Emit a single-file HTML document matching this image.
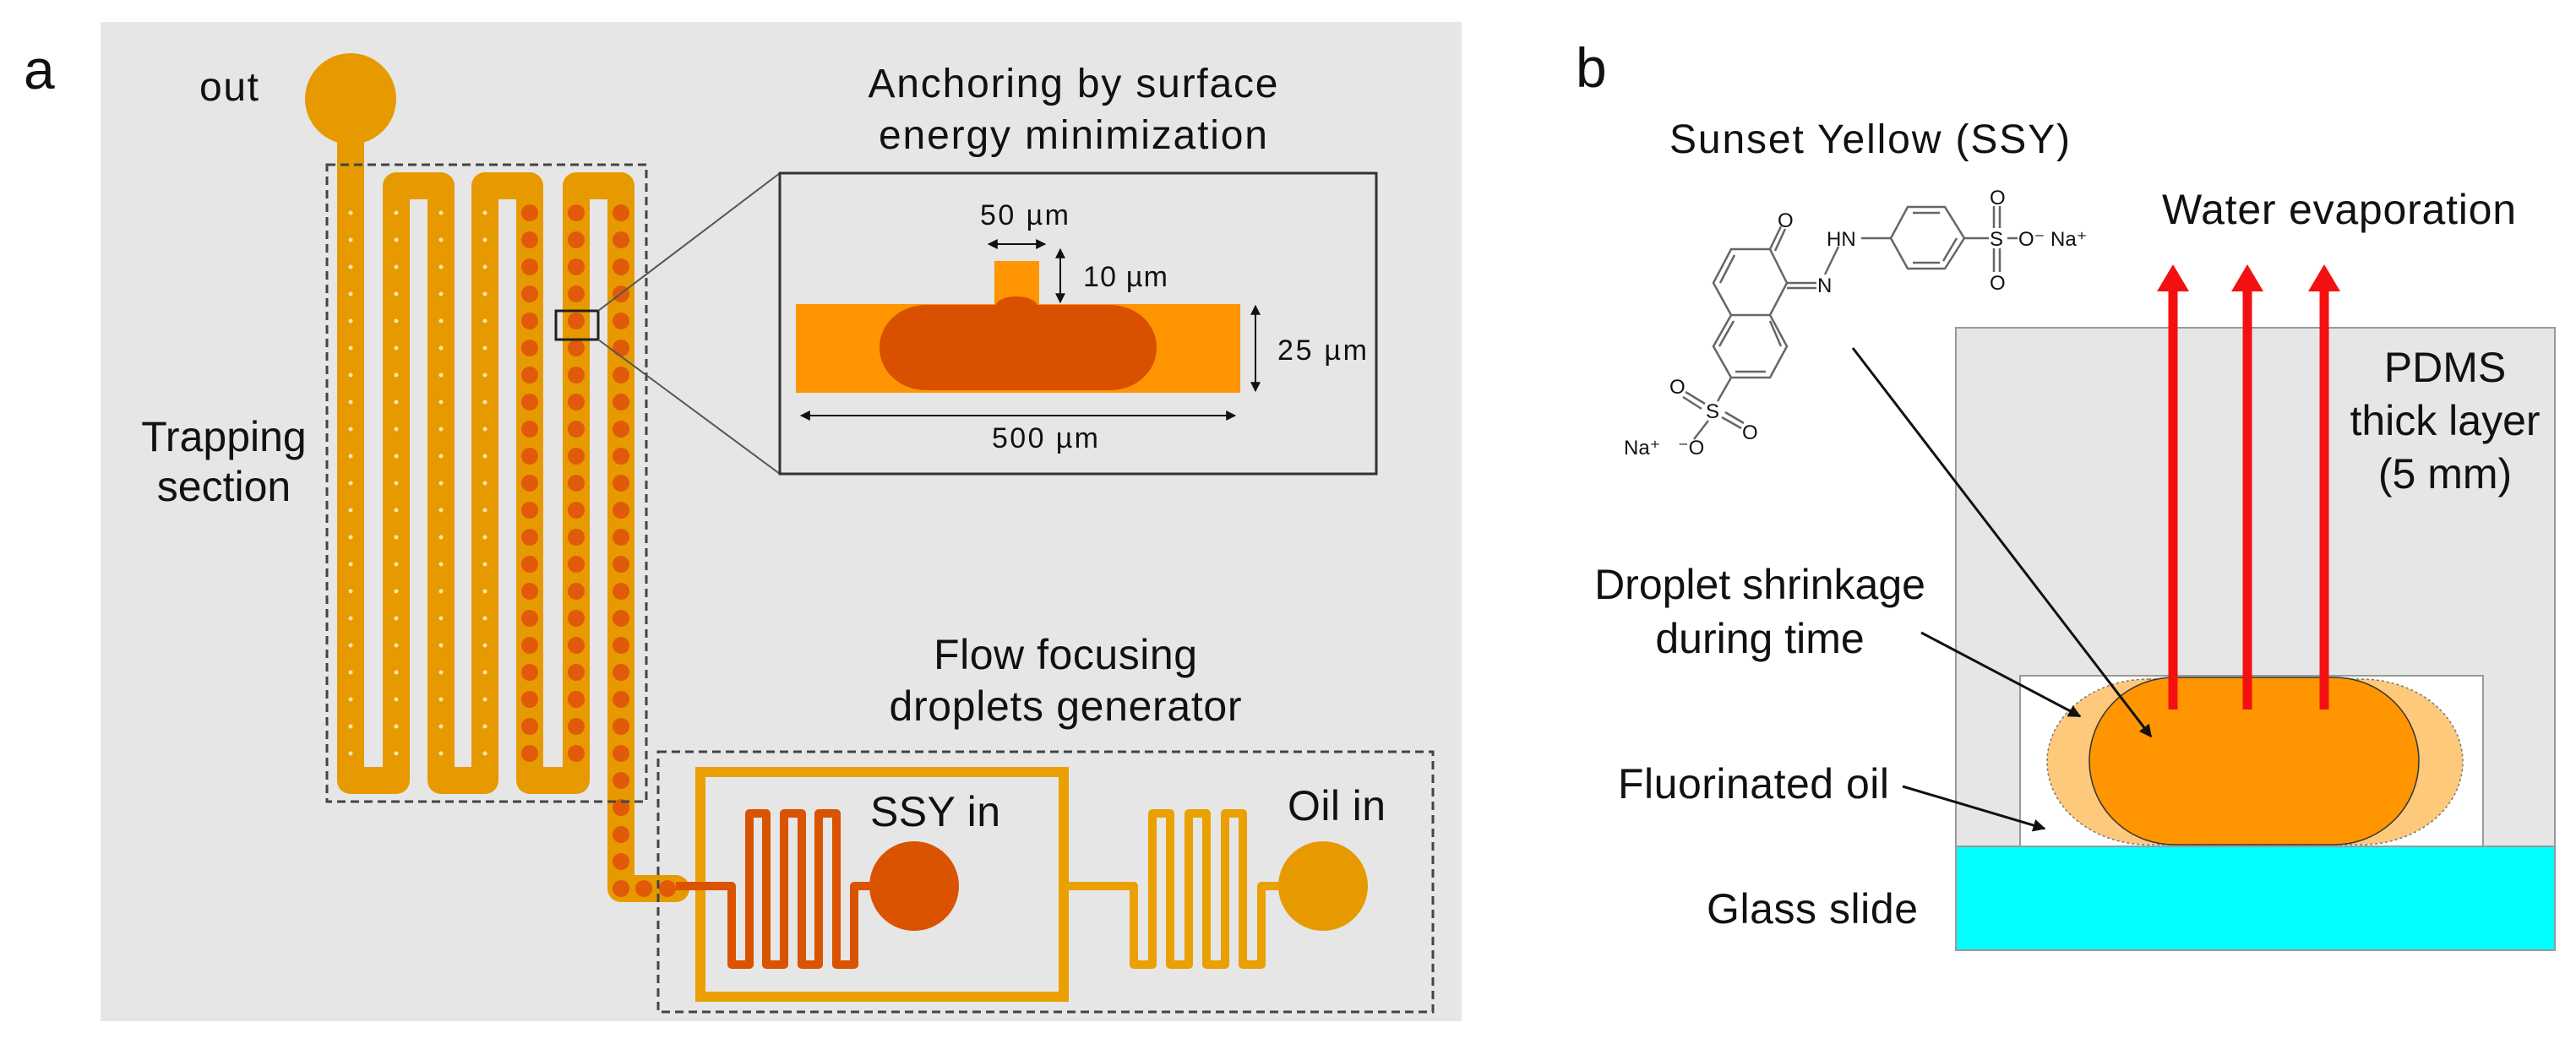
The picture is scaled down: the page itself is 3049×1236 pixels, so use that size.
<!DOCTYPE html>
<html><head><meta charset="utf-8"><style>
html,body{margin:0;padding:0;background:#fff;}
svg{display:block;}
text{font-family:"Liberation Sans",Arial,sans-serif;fill:#111;}
</style></head><body>
<svg width="3049" height="1236" viewBox="0 0 3049 1236" xmlns="http://www.w3.org/2000/svg">
<defs>
<marker id="ah" viewBox="0 0 10 10" refX="9" refY="5" markerWidth="6" markerHeight="6" orient="auto-start-reverse"><path d="M0,0 L10,5 L0,10 z" fill="#111"/></marker>
<marker id="ahs" viewBox="0 0 10 10" refX="9" refY="5" markerWidth="5" markerHeight="5" orient="auto-start-reverse"><path d="M0,0 L10,5 L0,10 z" fill="#111"/></marker>
</defs>
<!-- panel a -->
<rect x="119" y="26" width="1611" height="1183" fill="#e6e6e6"/>
<text x="28" y="105" font-size="66">a</text>
<text x="236" y="119" font-size="48" textLength="70">out</text>
<circle cx="415" cy="117" r="54" fill="#e69a00"/>
<text x="265" y="534" font-size="50" text-anchor="middle">Trapping</text>
<text x="265" y="593" font-size="50" text-anchor="middle">section</text>
<path d="M415,117 L415,924 L469,924 L469,220 L522,220 L522,924 L574,924 L574,220 L627,220 L627,924 L682,924 L682,220 L735,220 L735,1052 L800,1052" fill="none" stroke="#e69a00" stroke-width="32" stroke-linejoin="round" stroke-linecap="round"/>
<g id="dots"></g>
<rect x="387" y="195" width="378" height="754" fill="none" stroke="#444" stroke-width="3" stroke-dasharray="10,6"/>
<rect x="658" y="368" width="50" height="34" fill="none" stroke="#222" stroke-width="3"/>
<line x1="708" y1="368" x2="923" y2="205" stroke="#555" stroke-width="2"/>
<line x1="708" y1="402" x2="923" y2="561" stroke="#555" stroke-width="2"/>
<!-- inset -->
<text x="1270" y="115" font-size="48" text-anchor="middle" textLength="485">Anchoring by surface</text>
<text x="1270" y="176" font-size="48" text-anchor="middle" textLength="460">energy minimization</text>
<rect x="923" y="205" width="706" height="356" fill="#e6e6e6" stroke="#333" stroke-width="3"/>
<rect x="942" y="360" width="526" height="105" fill="#ff9500"/>
<rect x="1177" y="309" width="53" height="52" fill="#ff9500"/>
<rect x="1041" y="361" width="328" height="101" rx="55" ry="50" fill="#d95000"/>
<ellipse cx="1203" cy="363" rx="25" ry="12" fill="#d95000"/>
<line x1="1170" y1="289" x2="1237" y2="289" stroke="#111" stroke-width="2" marker-start="url(#ah)" marker-end="url(#ah)"/>
<text x="1160" y="266" font-size="34" textLength="105">50 µm</text>
<line x1="1255" y1="295" x2="1255" y2="358" stroke="#111" stroke-width="2" marker-start="url(#ah)" marker-end="url(#ah)"/>
<text x="1282" y="339" font-size="34" textLength="100">10 µm</text>
<line x1="1486" y1="362" x2="1486" y2="463" stroke="#111" stroke-width="2" marker-start="url(#ah)" marker-end="url(#ah)"/>
<text x="1512" y="426" font-size="34" textLength="106">25 µm</text>
<line x1="948" y1="492" x2="1462" y2="492" stroke="#111" stroke-width="2" marker-start="url(#ah)" marker-end="url(#ah)"/>
<text x="1174" y="530" font-size="34" textLength="126">500 µm</text>
<!-- generator -->
<text x="1261" y="792" font-size="50" text-anchor="middle" textLength="312">Flow focusing</text>
<text x="1261" y="853" font-size="50" text-anchor="middle" textLength="417">droplets generator</text>
<rect x="779" y="890" width="917" height="308" fill="none" stroke="#444" stroke-width="3" stroke-dasharray="10,6"/>
<rect x="829" y="914" width="430" height="266" fill="none" stroke="#eaa000" stroke-width="12"/>
<path d="M800,1049 L866,1049 L866,1142 L887,1142 L887,963 L907,963 L907,1142 L928,1142 L928,963 L949,963 L949,1142 L969,1142 L969,963 L990,963 L990,1142 L1011,1142 L1011,1049 L1040,1049" fill="none" stroke="#d95300" stroke-width="10" stroke-linejoin="round"/>
<circle cx="1082" cy="1049" r="53" fill="#d95300"/>
<text x="1030" y="978" font-size="50" textLength="154">SSY in</text>
<path d="M1259,1049 L1342,1049 L1342,1142 L1364,1142 L1364,963 L1385,963 L1385,1142 L1407,1142 L1407,963 L1428,963 L1428,1142 L1450,1142 L1450,963 L1471,963 L1471,1142 L1493,1142 L1493,1049 L1520,1049" fill="none" stroke="#eaa000" stroke-width="10" stroke-linejoin="round"/>
<circle cx="1566" cy="1049" r="53" fill="#e69a00"/>
<text x="1524" y="971" font-size="50" textLength="116">Oil in</text>
<!-- panel b -->
<text x="1865" y="103" font-size="66">b</text>
<text x="1976" y="181" font-size="48" textLength="474">Sunset Yellow (SSY)</text>
<text x="2559" y="265" font-size="50" textLength="419">Water evaporation</text>
<rect x="2315" y="388" width="709" height="614" fill="#e6e6e6" stroke="#999" stroke-width="2"/>
<rect x="2391" y="800" width="548" height="202" fill="#fff" stroke="#999" stroke-width="2"/>
<rect x="2315" y="1002" width="709" height="123" fill="#00ffff" stroke="#999" stroke-width="2"/>
<text x="2894" y="452" font-size="50" text-anchor="middle">PDMS</text>
<text x="2894" y="515" font-size="50" text-anchor="middle">thick layer</text>
<text x="2894" y="578" font-size="50" text-anchor="middle">(5 mm)</text>
<rect x="2423" y="804" width="492" height="196" rx="120" ry="98" fill="#ffc97c" stroke="#777" stroke-width="1.5" stroke-dasharray="3,3"/>
<rect x="2473" y="802" width="390" height="198" rx="100" ry="99" fill="#ff9500" stroke="#333" stroke-width="1.5"/>
<g stroke="#f41010" stroke-width="11">
<line x1="2572" y1="840" x2="2572" y2="340"/><line x1="2660" y1="840" x2="2660" y2="340"/><line x1="2751" y1="840" x2="2751" y2="340"/>
</g>
<g fill="#f41010">
<path d="M2553,345 L2572,313 L2591,345 z"/><path d="M2641,345 L2660,313 L2679,345 z"/><path d="M2732,345 L2751,313 L2770,345 z"/>
</g>
<line x1="2193" y1="412" x2="2546" y2="872" stroke="#111" stroke-width="3" marker-end="url(#ahs)"/>
<text x="2083" y="709" font-size="50" text-anchor="middle">Droplet shrinkage</text>
<text x="2083" y="773" font-size="50" text-anchor="middle">during time</text>
<line x1="2274" y1="749" x2="2462" y2="848" stroke="#111" stroke-width="3" marker-end="url(#ahs)"/>
<text x="1915" y="945" font-size="50" textLength="321">Fluorinated oil</text>
<line x1="2252" y1="931" x2="2420" y2="981" stroke="#111" stroke-width="3" marker-end="url(#ahs)"/>
<text x="2020" y="1093" font-size="50" textLength="250">Glass slide</text>
<!-- structure -->
<g stroke="#666" stroke-width="2.5" fill="none">
<path d="M2049,295 L2095,295 L2115,335 L2095,373 L2049,373 L2028,335 Z"/>
<path d="M2095,373 L2115,410 L2095,447 L2049,447 L2028,410 L2049,373"/>
<path d="M2036,335 L2053,302 M2054,440 L2090,440 M2035,410 L2052,380 M2095,380 L2108,410"/>
<path d="M2095,295 L2108,268 M2101,297 L2113,271"/>
<path d="M2115,335 L2150,335 M2115,341 L2150,341"/>
<path d="M2160,325 L2176,292"/>
<path d="M2203,282 L2238,282"/>
<path d="M2238,282 L2258,245 L2302,245 L2325,282 L2302,318 L2258,318 Z M2264,252 L2296,252 M2264,311 L2296,311 M2316,282 L2300,309"/>
<path d="M2325,282 L2354,282 M2376,282 L2388,282"/>
<path d="M2360,244 L2360,270 M2367,244 L2367,270 M2360,294 L2360,322 M2367,294 L2367,322"/>
<path d="M2049,447 L2033,475 M2018,478 L1995,464 M2014,484 L1992,470 M2038,494 L2061,507 M2042,488 L2064,501 M2022,498 L2005,520"/>
</g>
<g font-size="24" fill="#333">
<text x="2104" y="269">O</text>
<text x="2151" y="346">N</text>
<text x="2162" y="291">HN</text>
<text x="2355" y="291">S</text>
<text x="2355" y="242">O</text>
<text x="2355" y="343">O</text>
<text x="2389" y="291">O⁻</text>
<text x="2427" y="291">Na⁺</text>
<text x="2019" y="495">S</text>
<text x="1976" y="466">O</text>
<text x="2062" y="520">O</text>
<text x="1986" y="538">⁻O</text>
<text x="1922" y="538">Na⁺</text>
</g>
</svg>
<script>
(function(){
var g=document.getElementById('dots'),ns='http://www.w3.org/2000/svg';
function c(x,y,r,f){var e=document.createElementNS(ns,'circle');e.setAttribute('cx',x);e.setAttribute('cy',y);e.setAttribute('r',r);e.setAttribute('fill',f);g.appendChild(e);}
[415,469,522,574].forEach(function(x){for(var k=0;k<=20;k++)c(x,252+32*k,2.5,'#fbe3b0');});
[627,682].forEach(function(x){for(var k=0;k<=20;k++)c(x,252+32*k,10,'#e05a0a');});
for(var k=0;k<=25;k++)c(735,252+32*k,10,'#e05a0a');
c(762,1052,10,'#e05a0a');c(790,1052,10,'#e05a0a');
})();
</script>
</body></html>
